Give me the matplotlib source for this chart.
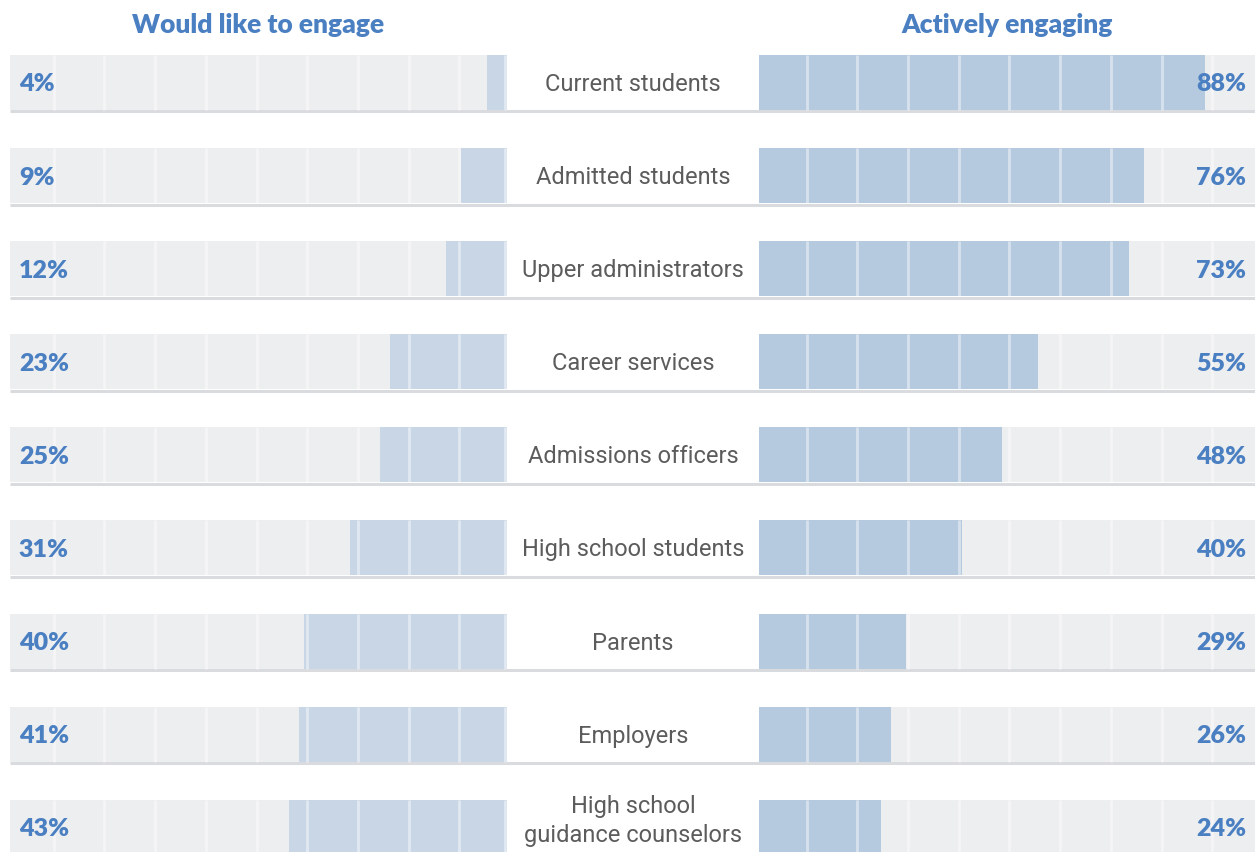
import numpy as np
import matplotlib.pyplot as plt
from matplotlib import transforms

categories = ['Current students', 'Admitted students', 'Upper administrators',
              'Career services', 'Admissions officers', 'High school students',
              'Parents', 'Employers', 'High school\nguidance counselors']
would_like = [4, 9, 12, 23, 25, 31, 40, 41, 43]
actively = [88, 76, 73, 55, 48, 40, 29, 26, 24]

W, H = 1255, 852
PITCH = 93.1          # row spacing in px
BAR_PX = 55           # bar height in px
TOP = 55              # top of first row
BAR_H = BAR_PX / PITCH
PX_PER_PCT = 5.07
NUDGE = 2 / PITCH     # push text down a touch

BLUE_TXT = '#4a7fc2'
LEFT_BAR = '#c9d6e6'
RIGHT_BAR = '#b6cadf'
TRACK = '#edeef0'
RULE = '#d9dbde'
LABEL = '#5c5c5c'

fig = plt.figure(figsize=(W / 100, H / 100), dpi=100)

n = len(categories)
rows = np.arange(n)
y_top = -BAR_H / 2
y_bot = (H - TOP) / PITCH - BAR_H / 2


def add_ax(x0, x1):
    ax = fig.add_axes([x0 / W, 0, (x1 - x0) / W, (H - TOP) / H])
    ax.set_ylim(y_bot, y_top)
    ax.axis('off')
    return ax


# background axes for the row rules and the category names
bg = add_ax(10, 1255)
bg.set_xlim(10, 1255)
rule_y = rows + BAR_H / 2 + 1.5 / PITCH
bg.hlines(rule_y, 10, 1255, color=RULE, lw=2.2, zorder=1)
for i, cat in enumerate(categories):
    dy = -0.07 if '\n' in cat else NUDGE
    bg.text(633, i + dy, cat, ha='center', va='center', fontsize=17,
            color=LABEL, family='Roboto', fontweight='normal', linespacing=1.35)

left = add_ax(10, 507)
right = add_ax(759, 1255)
left.set_xlim((507 - 10) / PX_PER_PCT, 0)
right.set_xlim(0, (1255 - 759) / PX_PER_PCT)

grid = np.arange(10, 100, 10) - 0.6
for ax, vals, col, gl in [(left, would_like, LEFT_BAR, np.r_[0.3, grid]),
                          (right, actively, RIGHT_BAR, grid)]:
    ax.barh(rows, [100] * n, height=BAR_H, color=TRACK, zorder=1)
    ax.barh(rows, vals, height=BAR_H, color=col, zorder=2)
    for i in rows:
        ax.vlines(gl, i - BAR_H / 2, i + BAR_H / 2, color='white',
                  alpha=0.45, lw=2, zorder=3)

tl = transforms.blended_transform_factory(left.transAxes, left.transData)
tr = transforms.blended_transform_factory(right.transAxes, right.transData)
for i in rows:
    left.text(0.018, i + NUDGE, f'{would_like[i]}%', transform=tl, ha='left',
              va='center', fontsize=18, color=BLUE_TXT, family='Lato',
              fontweight='heavy', zorder=5)
    right.text(0.982, i + NUDGE, f'{actively[i]}%', transform=tr, ha='right',
               va='center', fontsize=18, color=BLUE_TXT, family='Lato',
               fontweight='heavy', zorder=5)

fig.text(258.5 / W, 1 - 25 / H, 'Would like to engage', ha='center',
         va='center', fontsize=19, color=BLUE_TXT, family='Lato',
         fontweight='heavy')
fig.text(1007 / W, 1 - 25 / H, 'Actively engaging', ha='center',
         va='center', fontsize=19, color=BLUE_TXT, family='Lato',
         fontweight='heavy')

fig.savefig('out.png', dpi=100)
